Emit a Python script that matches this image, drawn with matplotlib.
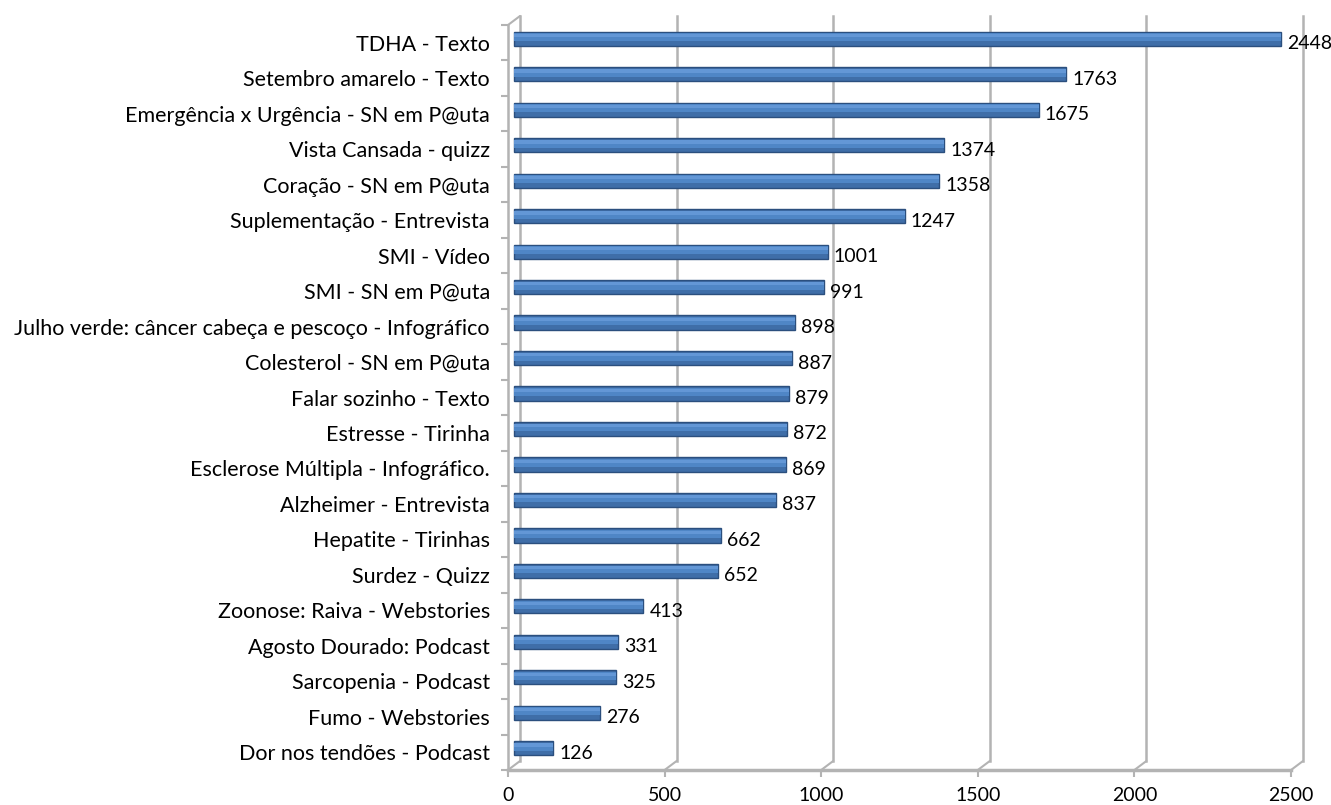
import matplotlib.pyplot as plt
from matplotlib.transforms import offset_copy

# Daten
kategorien = ["TDHA - Texto", "Setembro amarelo - Texto",
              "Emergência x Urgência - SN em P@uta", "Vista Cansada - quizz",
              "Coração - SN em P@uta", "Suplementação - Entrevista",
              "SMI - Vídeo", "SMI - SN em P@uta",
              "Julho verde: câncer cabeça e pescoço - Infográfico",
              "Colesterol - SN em P@uta", "Falar sozinho - Texto",
              "Estresse - Tirinha", "Esclerose Múltipla - Infográfico.",
              "Alzheimer - Entrevista", "Hepatite - Tirinhas",
              "Surdez - Quizz", "Zoonose: Raiva - Webstories",
              "Agosto Dourado: Podcast", "Sarcopenia - Podcast",
              "Fumo - Webstories", "Dor nos tendões - Podcast"]
werte = [2448, 1763, 1675, 1374, 1358, 1247, 1001, 991, 898, 887, 879,
         872, 869, 837, 662, 652, 413, 331, 325, 276, 126]
x_ticks = [0, 500, 1000, 1500, 2000, 2500]

plt.rcParams['font.family'] = ['Lato', 'DejaVu Sans']
grau = "#b3b3b3"

fig = plt.figure(figsize=(13.31, 8.05), dpi=100)
ax = fig.add_axes([508 / 1331, 1 - 770 / 805, 783 / 1331, 745 / 805])
n = len(werte)
pos = list(range(n))
ax.set_xlim(0, 2500)
ax.set_ylim(n - 0.5, -0.5)

# Verschiebungen für den 3D-Effekt (Rückwand und Balken)
hinten = offset_copy(ax.transData, fig=fig, x=12, y=9, units='dots')
mitte = offset_copy(ax.transData, fig=fig, x=6, y=4, units='dots')
label_tr = offset_copy(ax.transData, fig=fig, x=12, y=-1, units='dots')

# Gitterlinien auf der Rückwand + schräge Verbindungen
for v in x_ticks:
    ax.plot([v, v], [n - 0.5, -0.5], color=grau, lw=1.8, transform=hinten,
            clip_on=False, zorder=1)
    ax.annotate("", xy=(v, n - 0.5), xycoords=hinten, xytext=(v, n - 0.5),
                textcoords=ax.transData,
                arrowprops=dict(arrowstyle="-", color=grau, lw=1.5,
                                shrinkA=0, shrinkB=0))
ax.annotate("", xy=(0, -0.5), xycoords=hinten, xytext=(0, -0.5),
            textcoords=ax.transData,
            arrowprops=dict(arrowstyle="-", color=grau, lw=1.5,
                            shrinkA=0, shrinkB=0))

# Balken: dunkler Rand, Grundfarbe, heller Streifen oben
ax.barh(pos, werte, height=0.40, color="#3f6ea8", edgecolor="#2b4f7e",
        linewidth=1.0, transform=mitte, zorder=3)
ax.barh([p - 0.04 for p in pos], werte, height=0.22, color="#4f86c6",
        linewidth=0, transform=mitte, zorder=4)
ax.barh([p - 0.09 for p in pos], werte, height=0.09, color="#6397d6",
        linewidth=0, transform=mitte, zorder=5)

for p, w in zip(pos, werte):
    ax.text(w, p, str(w), transform=label_tr, va="center", ha="left",
            fontsize=14, color="black", zorder=6)

# Achsen
for s in ["top", "right"]:
    ax.spines[s].set_visible(False)
ax.spines["left"].set_color(grau)
ax.spines["bottom"].set_color(grau)
ax.spines["left"].set_linewidth(1.8)
ax.spines["bottom"].set_linewidth(2.5)

ax.set_yticks(pos, kategorien, fontsize=15.5)
ax.set_yticks([p - 0.5 for p in range(n + 1)], minor=True)
ax.tick_params(axis="y", which="major", length=0, pad=13)
ax.tick_params(axis="y", which="minor", length=5, width=1.5, color=grau)
ax.set_xticks(x_ticks, [str(t) for t in x_ticks], fontsize=14)
ax.tick_params(axis="x", length=5, width=1.5, color=grau, pad=7)
ax.set_facecolor("none")

plt.savefig("out.png", dpi=100)
